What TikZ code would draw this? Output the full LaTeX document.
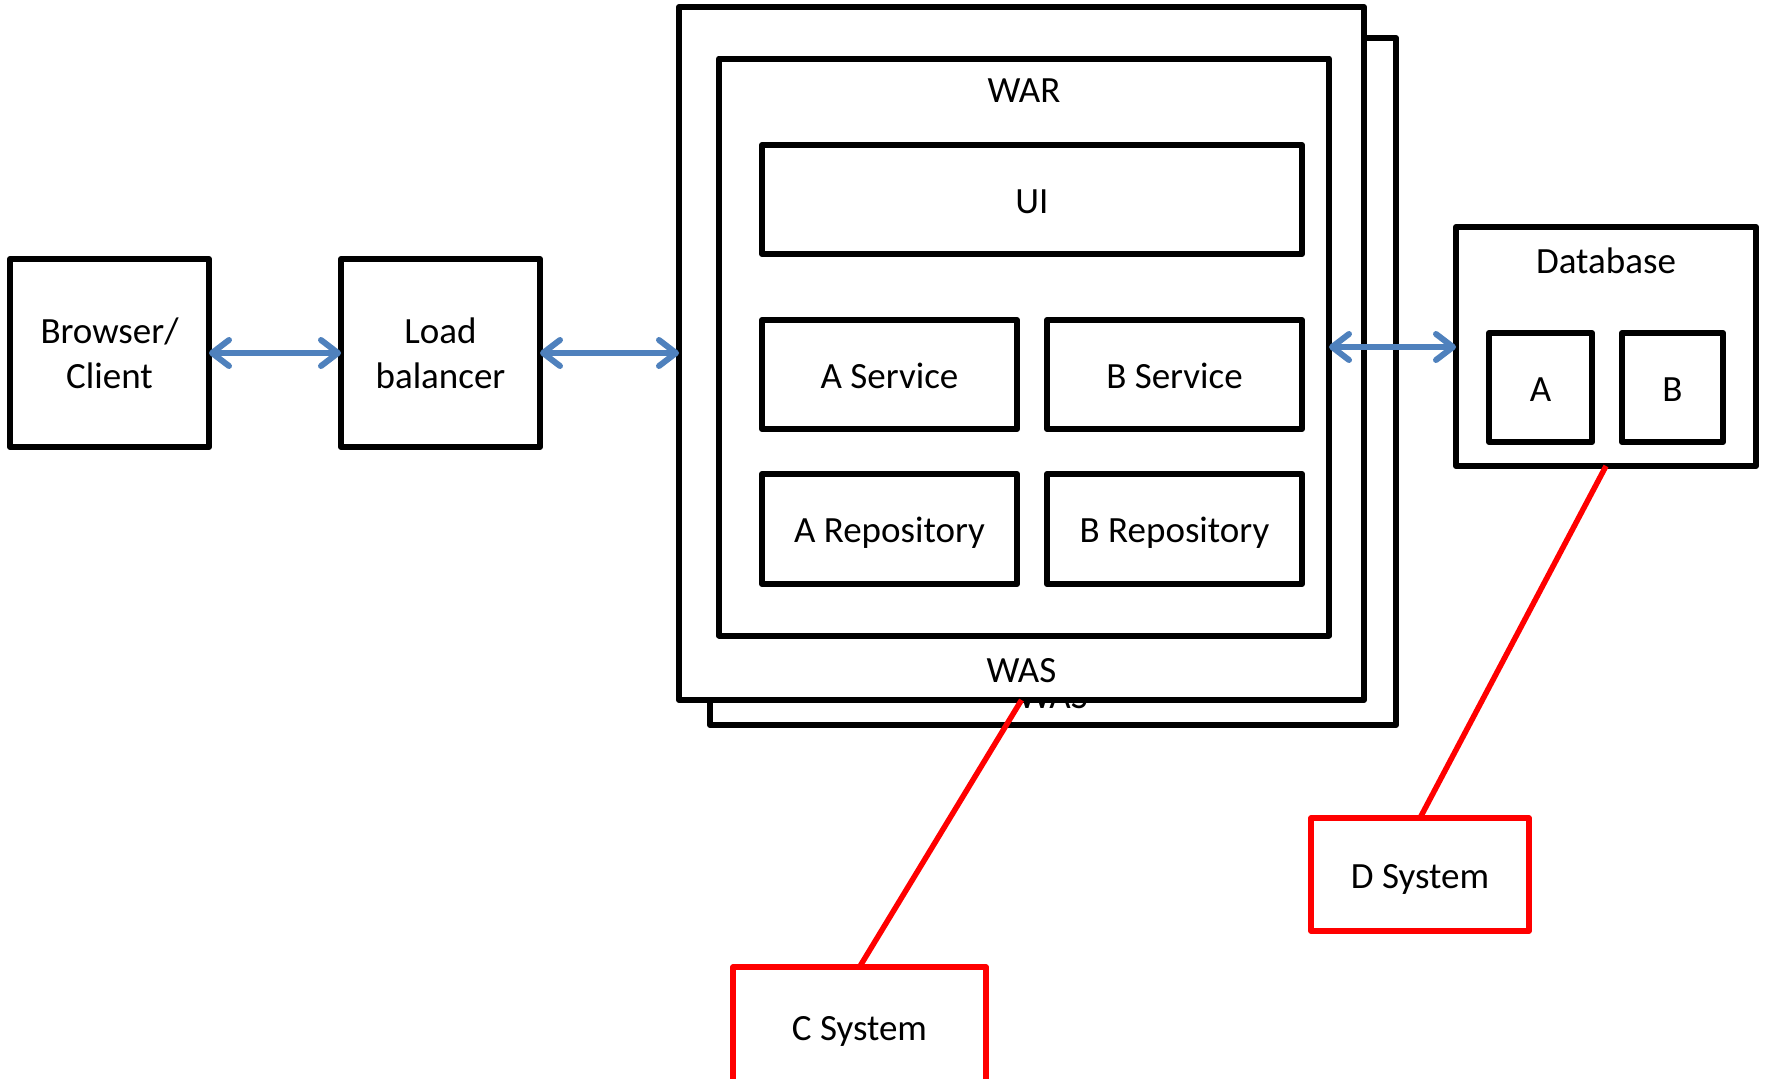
\documentclass[tikz,border=0pt]{standalone}
\usepackage{fontspec}
\setmainfont{Carlito}
\usetikzlibrary{arrows.meta}
\newcommand\diaglabel{\fontsize{37}{45}\selectfont}
\begin{document}
\begin{tikzpicture}[x=1pt,y=-1pt,
  frame/.style={draw=black,line width=6pt,line join=round,fill=white,
    inner sep=0pt,outer sep=0pt,align=center,font=\diaglabel},
  box/.style={frame,text height=33pt,text depth=6pt},
  sysbox/.style={box,draw=red,line width=5.5pt},
  txt/.style={inner sep=0pt,font=\diaglabel,anchor=base},
  link/.style={draw={rgb,255:red,79;green,129;blue,189},line width=6pt,
    {Straight Barb[length=17pt,width=26pt,round]}-{Straight Barb[length=17pt,width=26pt,round]}},
  wire/.style={draw=red,line width=5.5pt}]
\path[use as bounding box,clip] (0,0) rectangle (1765,1079);

% client side
\node[frame,minimum width=199,minimum height=188] (client) at (109.5,353) {Browser/\\Client};
\node[frame,minimum width=199,minimum height=188] (lb) at (440.5,353) {Load\\balancer};

% application servers (second instance behind)
\node[frame,minimum width=686,minimum height=687] (wasback) at (1053,381.5) {};
\node[txt] (wasbacklbl) at (1053,708) {WAS};
\node[frame,minimum width=685,minimum height=693] (was) at (1021.5,353.5) {};
\node[txt] (waslbl) at (1021.5,682) {WAS};

% web archive and its layers
\node[frame,minimum width=610,minimum height=577] (war) at (1024,347) {};
\node[txt] (warlbl) at (1024,102) {WAR};
\node[box,minimum width=540,minimum height=109] (ui) at (1032,199.5) {UI};
\node[box,minimum width=255,minimum height=109] (asvc) at (889.5,374.5) {A Service};
\node[box,minimum width=255,minimum height=109] (bsvc) at (1174.5,374.5) {B Service};
\node[box,minimum width=255,minimum height=110] (arepo) at (889.5,529) {A Repository};
\node[box,minimum width=255,minimum height=110] (brepo) at (1174.5,529) {B Repository};

% database
\node[frame,minimum width=300,minimum height=239] (db) at (1606,346.5) {};
\node[txt] (dblbl) at (1606,273) {Database};
\node[box,minimum width=103,minimum height=109] (dba) at (1540.5,387.5) {A};
\node[box,minimum width=101,minimum height=109] (dbb) at (1672.5,387.5) {B};

% external systems
\node[sysbox,minimum width=218,minimum height=113] (dsys) at (1420,874.5) {D System};
\node[sysbox,minimum width=253,minimum height=120] (csys) at (859.5,1027) {C System};

% connections
\draw[link] (client.east) -- (lb.west);
\draw[link] (lb.east) -- (lb.east -| was.west);
\draw[link] (war.east) -- (war.east -| db.west);
\draw[wire] (csys.north) -- (was.south);
\draw[wire] (dsys.north) -- (db.south);
\end{tikzpicture}
\end{document}
